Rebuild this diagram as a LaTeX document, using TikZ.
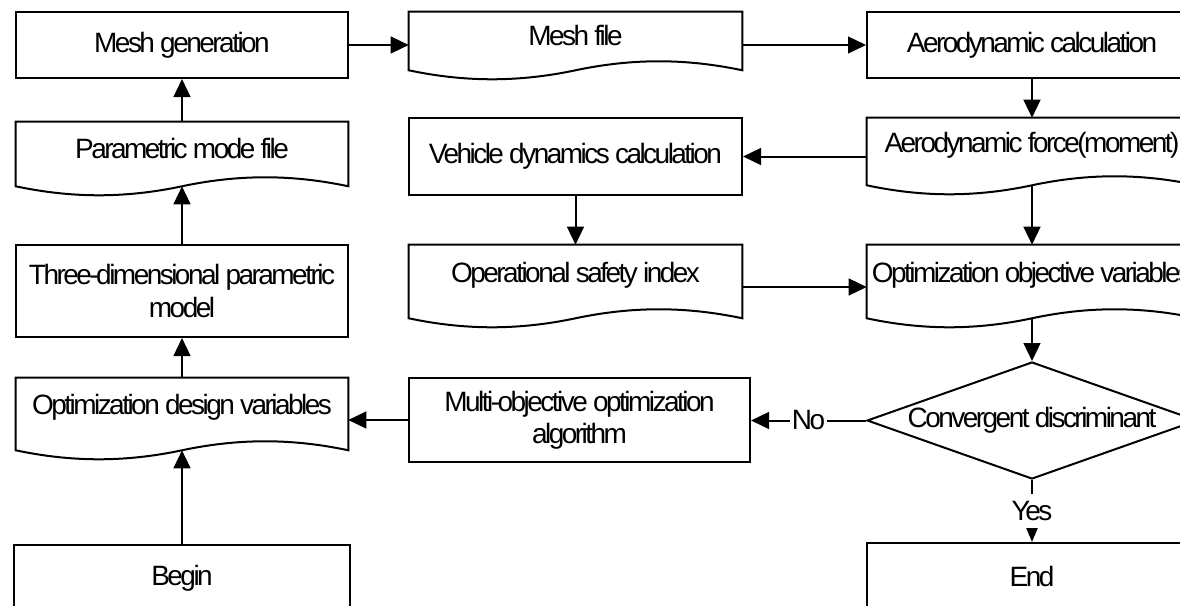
\documentclass[tikz,border=0pt]{standalone}
\usepackage{fontspec}
\setmainfont{Liberation Sans}[LetterSpace=-9]
\usetikzlibrary{calc,arrows.meta,shapes.geometric}

% document box: straight top and sides, wavy bottom #2 below the node
\newcommand{\docwave}[2]{%
  \coordinate (#1-sw) at ($(#1.south west)+(0,-#2)$);
  \coordinate (#1-se) at ($(#1.south east)+(0,-#2)$);
  \coordinate (#1-b) at ($(#1-sw)!0.5!(#1-se)$);
  \draw[boxline] (#1.north west) -- (#1.north east) -- (#1-se)
    .. controls ($(#1-sw)!0.83!(#1-se)+(0,0.3)$) and ($(#1-sw)!0.67!(#1-se)+(0,0.3)$) .. (#1-b)
    .. controls ($(#1-sw)!0.33!(#1-se)+(0,-0.3)$) and ($(#1-sw)!0.17!(#1-se)+(0,-0.3)$) .. (#1-sw) -- cycle;
}

\begin{document}
\begin{tikzpicture}[font=\fontsize{19.9}{22.8}\selectfont,
  boxline/.style={line width=0.05cm},
  proc/.style={boxline,draw,rectangle,inner sep=0pt,align=center,minimum width=8.3cm,minimum height=1.65cm},
  docbox/.style={rectangle,inner sep=0pt,align=center,minimum width=8.3cm},
  flow/.style={line width=0.05cm,-{Triangle[length=0.45cm,width=0.42cm]}},
  lab/.style={fill=white,inner xsep=1pt,inner ysep=0.19cm}]
\useasboundingbox (0,0) rectangle (29.5,-15.125);
\clip (0,0) rectangle (29.5,-15.125);

% left column
\node[proc] (gen) at (4.55,-1.125) {Mesh generation};
\node[docbox,minimum height=1.3cm] (pfile) at (4.55,-3.7) {Parametric mode file};
\docwave{pfile}{0.3}
\node[proc,minimum height=2.3cm] (para3d) at (4.55,-7.275) {Three-dimensional parametric\\model};
\node[docbox,minimum height=1.45cm] (odesign) at (4.55,-10.175) {Optimization design variables};
\docwave{odesign}{0.35}
\node[proc,minimum width=8.4cm,minimum height=1.675cm] (begin) at (4.55,-14.4625) {Begin};

% middle column
\node[docbox,minimum width=8.325cm,minimum height=1.2cm] (mfile) at (14.3875,-0.9) {Mesh file};
\docwave{mfile}{0.25}
\node[proc,minimum width=8.325cm,minimum height=1.925cm] (vehdyn) at (14.3875,-3.9125) {Vehicle dynamics calculation};
\node[docbox,minimum width=8.325cm,minimum height=1.5cm] (osafe) at (14.3875,-6.875) {Operational safety index};
\docwave{osafe}{0.325}
\node[proc,minimum width=8.525cm,minimum height=2.1cm] (multi) at (14.4875,-10.5) {Multi-objective optimization\\algorithm};

% right column
\node[proc,minimum width=8.25cm] (aerocalc) at (25.8,-1.125) {Aerodynamic calculation};
\node[docbox,minimum width=8.25cm,minimum height=1.35cm] (aforce) at (25.8,-3.625) {Aerodynamic force(moment)};
\docwave{aforce}{0.325}
\node[docbox,minimum width=8.25cm,minimum height=1.5cm] (oobj) at (25.8,-6.875) {Optimization objective variables};
\docwave{oobj}{0.325}
\node[boxline,draw,diamond,aspect=2.82,inner sep=0pt,minimum width=8.25cm,minimum height=2.925cm] (conv) at (25.8,-10.5125) {Convergent discriminant};
\node[proc,minimum width=8.25cm,minimum height=1.675cm] (endn) at (25.8,-14.4125) {End};

% connectors
\draw[flow] (gen.east) -- (gen.east -| mfile.west);
\draw[flow] (mfile.east |- aerocalc.west) -- (aerocalc.west);
\draw[flow] (aerocalc.south) -- (aforce.north);
\draw[flow] (aforce.west |- vehdyn.east) -- (vehdyn.east);
\draw[flow] (aforce-b) -- (oobj.north);
\draw[flow] (vehdyn.south) -- (osafe.north);
\draw[flow] ([yshift=-0.3cm]osafe.east) -- ([yshift=-0.3cm]oobj.west);
\draw[flow] (oobj-b) -- (conv.north);
\draw[flow] (conv.west) -- node[lab,inner ysep=1pt]{No} (conv.west -| multi.east);
\draw[line width=0.05cm,-{Triangle[length=0.375cm,width=0.3cm]}] (conv.south) -- node[lab]{Yes} (endn.north);
\draw[flow] (multi.west) -- (multi.west -| odesign.east);
\draw[flow] (begin.north) -- (odesign-b);
\draw[flow] (odesign.north) -- (para3d.south);
\draw[flow] (para3d.north) -- (pfile-b);
\draw[flow] (pfile.north) -- (gen.south);
\end{tikzpicture}
\end{document}
